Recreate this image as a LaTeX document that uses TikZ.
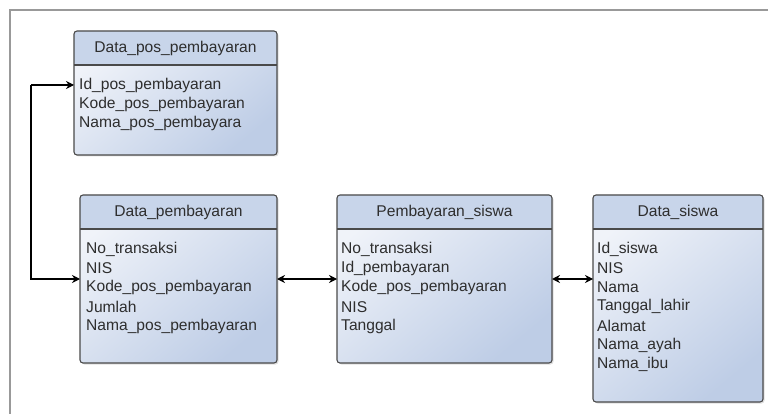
\documentclass[tikz,border=0pt]{standalone}
\usepackage{fontspec}
\setmainfont{Liberation Sans}
\usetikzlibrary{arrows.meta,shadows}
\definecolor{bord}{HTML}{4A4A4A}
\definecolor{hdr}{HTML}{C8D5EA}
\definecolor{bodyA}{HTML}{F0F3F9}
\definecolor{bodyB}{HTML}{BECDE6}
\definecolor{txt}{HTML}{2E2E2E}
\definecolor{framec}{HTML}{999999}
\begin{document}
\begin{tikzpicture}[x=1pt,y=-1pt,
  ebox/.style={draw=bord, line width=1.1pt, rounded corners=3pt, anchor=north west,
    top color=bodyA, bottom color=bodyB, shading angle=40,
    drop shadow={opacity=0.25, shadow xshift=1.5pt, shadow yshift=-1.5pt},
    inner sep=0pt, outer sep=0pt,
    path picture={
      \fill[hdr] (path picture bounding box.north west) rectangle ([yshift=-34pt]path picture bounding box.north east);
      \draw[bord, line width=1.1pt] ([yshift=-34pt]path picture bounding box.north west) -- ([yshift=-34pt]path picture bounding box.north east);
    }},
  htext/.style={text=txt, font=\fontsize{15.6}{18}\selectfont, inner sep=0pt},
  rtext/.style={text=txt, font=\fontsize{15.6}{18}\selectfont, inner sep=0pt, anchor=west},
  conn/.style={line width=1.1pt, black, {Stealth[length=8pt,width=8pt]}-{Stealth[length=8pt,width=8pt]}},
  conn1/.style={line width=1.1pt, black, -{Stealth[length=8pt,width=8pt]}}
]
\useasboundingbox (0,0) rectangle (768,414);
\fill[white] (0,0) rectangle (768,414);
% frame
\draw[framec, line width=2pt] (10,414) -- (10,10) -- (768,10);

% boxes
\node[ebox, minimum width=203pt, minimum height=124pt] (b1) at (74,31) {};
\node[ebox, minimum width=197pt, minimum height=168pt] (b2) at (80,195) {};
\node[ebox, minimum width=215pt, minimum height=168pt] (b3) at (337,195) {};
\node[ebox, minimum width=170pt, minimum height=207pt] (b4) at (593,195) {};

% headers
\node[htext] (h1) at ([yshift=-17pt]b1.north) {Data\_pos\_pembayaran};
\node[htext] (h2) at ([yshift=-17pt]b2.north) {Data\_pembayaran};
\node[htext] (h3) at ([yshift=-17pt]b3.north) {Pembayaran\_siswa};
\node[htext] (h4) at ([yshift=-17pt]b4.north) {Data\_siswa};

% rows
\foreach \t [count=\i] in {Id\_pos\_pembayaran, Kode\_pos\_pembayaran, Nama\_pos\_pembayara}
  \node[rtext] (ra\i) at (79, 65.7+19.3*\i) {\t};
\foreach \t [count=\i] in {No\_transaksi, NIS, Kode\_pos\_pembayaran, Jumlah, Nama\_pos\_pembayaran}
  \node[rtext] (rb\i) at (86, 229.7+19.3*\i) {\t};
\foreach \t [count=\i] in {No\_transaksi, Id\_pembayaran, Kode\_pos\_pembayaran, NIS, Tanggal}
  \node[rtext] (rc\i) at (341, 229.7+19.3*\i) {\t};
\foreach \t [count=\i] in {Id\_siswa, NIS, Nama, Tanggal\_lahir, Alamat, Nama\_ayah, Nama\_ibu}
  \node[rtext] (rd\i) at (597, 229.7+19.3*\i) {\t};

% connectors
\coordinate (bend) at (31,85);
\draw[conn1] (bend) -- (b1.west |- ra1);
\draw[conn1] (bend) |- (b2.west);
\draw[conn] (b2.east) -- (b3.west);
\draw[conn] (b3.east) -- (b4.west |- b3.east);
\end{tikzpicture}
\end{document}
